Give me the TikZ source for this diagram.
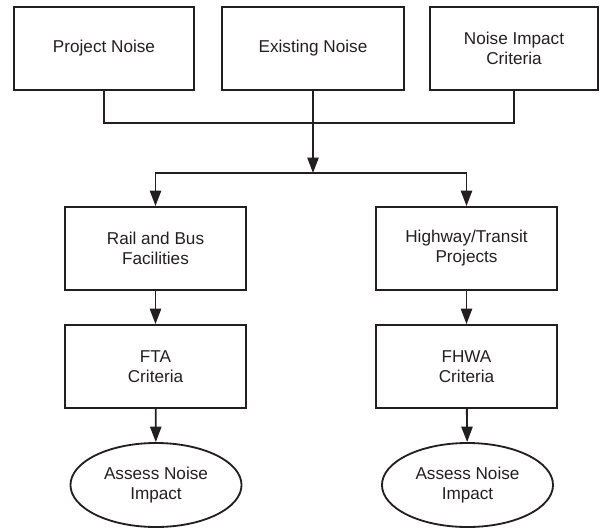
\documentclass[tikz,border=0pt]{standalone}
\usepackage{fontspec}
\setmainfont{Liberation Sans}
\usetikzlibrary{arrows.meta,shapes.geometric}
\definecolor{ink}{HTML}{231F20}

\begin{document}
\begin{tikzpicture}[x=0.025cm,y=-0.025cm,
  line width=1.3pt, draw=ink, >={Triangle[length=11pt,width=8pt]},
  every node/.style={font=\fontsize{12.2}{14.2}\selectfont, text=ink, align=center},
  box/.style={draw, rectangle, inner sep=0pt, minimum height=2.075cm},
  goal/.style={draw, ellipse, inner sep=0pt, minimum width=4.275cm, minimum height=2.1cm}]
\useasboundingbox (0,0) rectangle (600,528);
% top row
\node[box, minimum width=4.5cm] (pn) at (104,48.5) {Project Noise};
\node[box, minimum width=4.55cm] (en) at (313,48.5) {Existing Noise};
\node[box, minimum width=4.2cm] (ic) at (514,48.5) {Noise Impact\\Criteria};
\coordinate (join) at (313,123);
\coordinate (split) at (313,173);
\draw (pn.south) |- (join) -| (ic.south);
\draw[->] (en.south) -- (split);
% left branch
\node[box, minimum width=4.525cm] (rb) at (155.5,248.5) {Rail and Bus\\Facilities};
\node[box, minimum width=4.525cm] (fta) at (155.5,366.5) {FTA\\Criteria};
\node[goal] (al) at (156,485) {Assess Noise\\Impact};
% right branch
\node[box, minimum width=4.525cm] (ht) at (466.5,248.5) {Highway/Transit\\Projects};
\node[box, minimum width=4.525cm] (fhwa) at (466.5,366.5) {FHWA\\Criteria};
\node[goal] (ar) at (467.5,485) {Assess Noise\\Impact};
\draw[->] (split) -| (rb.north);
\draw[->] (split) -| (ht.north);
\draw[->] (rb) -- (fta);
\draw[->] (fta) -- (al);
\draw[->] (ht) -- (fhwa);
\draw[->] (fhwa) -- (ar);
\end{tikzpicture}
\end{document}
